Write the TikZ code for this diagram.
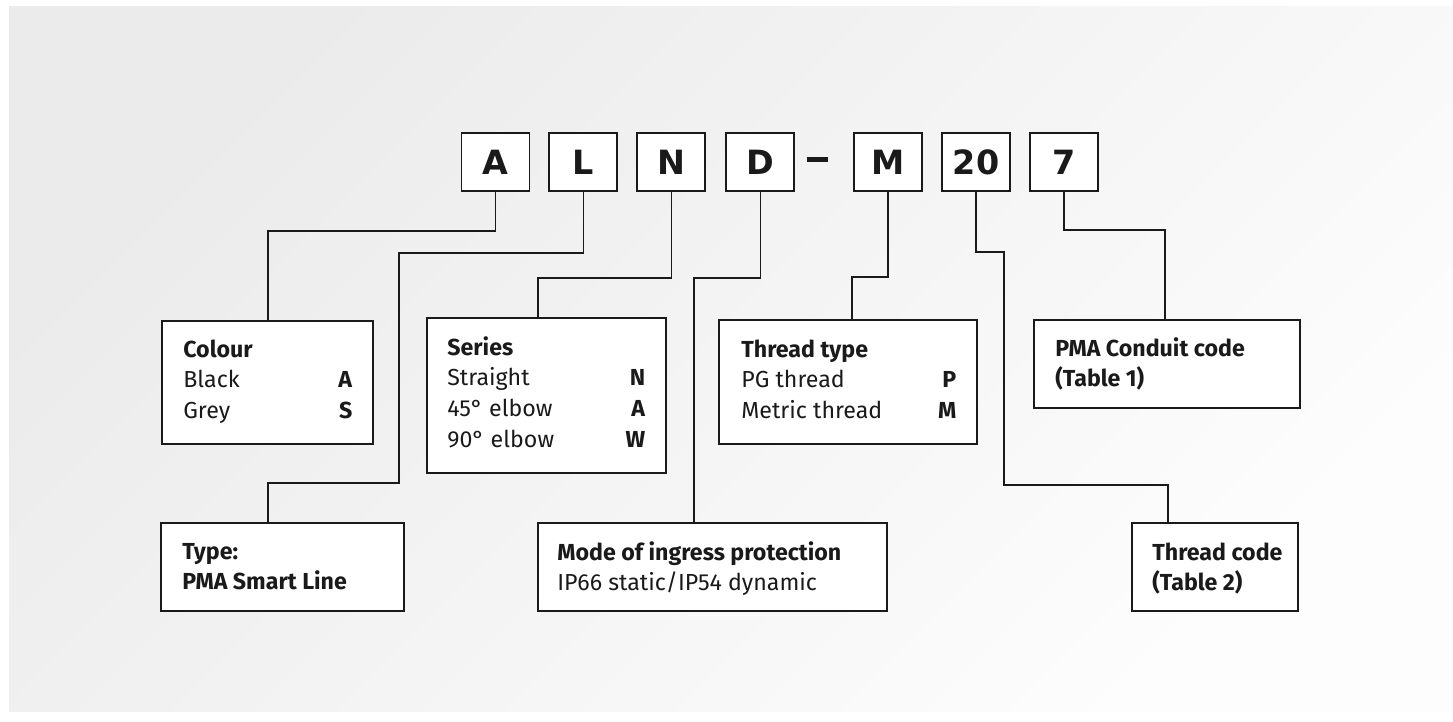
\documentclass[tikz,border=0pt]{standalone}
\usepackage{fontspec}
\setmainfont{Fira Sans}
\newfontfamily\codefont{DejaVu Sans}
\usetikzlibrary{positioning}
\definecolor{ink}{HTML}{1A1A1A}
\definecolor{bgdark}{HTML}{EBEBEB}
\definecolor{bglight}{HTML}{FDFDFD}

\begin{document}
\begin{tikzpicture}[
    x=0.02cm, y=-0.02cm,
    codebox/.style={
        rectangle, draw=ink, fill=white, line width=1.1pt,
        minimum width=1.36cm, minimum height=1.16cm, inner sep=0pt,
        font=\codefont\bfseries\fontsize{19}{20}\selectfont, text=ink,
    },
    infobox/.style={
        rectangle, draw=ink, fill=white, line width=1.1pt, inner sep=0pt,
    },
    infotxt/.style={
        anchor=base west, inner sep=0pt, text=ink,
        font=\fontsize{13.2}{17.6}\selectfont,
    },
    wire/.style={draw=ink, line width=0.85pt},
]

% ---------------------------------------------------------------- backdrop
\useasboundingbox (0,0) rectangle (1453,721);
\fill[white] (0,0) rectangle (1453,721);
\shade[top color=bgdark, bottom color=bglight, shading angle=45]
    (9,6) rectangle (1453,711);

% ---------------------------------------------------------------- order code
\node[codebox] (ca) at (495.5,162) {A};
\node[codebox, right=0.36cm of ca] (cl) {L};
\node[codebox, right=0.36cm of cl] (cn) {N};
\node[codebox, right=0.38cm of cn] (cd) {D};
\node[codebox, right=1.16cm of cd] (cm) {M};
\node[codebox, right=0.36cm of cm] (ctw) {20};
\node[codebox, right=0.36cm of ctw] (csv) {7};
\node[fill=ink, minimum width=0.42cm, minimum height=0.1cm, inner sep=0pt] (dash)
    at (817.5,159) {};

% ---------------------------------------------------------------- upper boxes
\node[infobox, minimum width=4.22cm, minimum height=2.46cm] (colour) at (267.5,382.5) {};
\node[infotxt] (colourtxt) at (183,357) {%
    \begin{tabular*}{3.38cm}[t]{@{}l@{\extracolsep{\fill}}r@{}}
    \multicolumn{2}{@{}l}{\textbf{Colour}}\\
    Black & \textbf{A}\\
    Grey & \textbf{S}
    \end{tabular*}};

\node[infobox, minimum width=4.78cm, minimum height=3.10cm] (series) at (546.5,395.5) {};
\node[infotxt] (seriestxt) at (447,355) {%
    \begin{tabular*}{3.96cm}[t]{@{}l@{\extracolsep{\fill}}r@{}}
    \multicolumn{2}{@{}l}{\textbf{Series}}\\
    Straight & \textbf{N}\\
    45° elbow & \textbf{A}\\
    90° elbow & \textbf{W}
    \end{tabular*}};

\node[infobox, minimum width=5.16cm, minimum height=2.48cm] (thread) at (848,382) {};
\node[infotxt] (threadtxt) at (741,357) {%
    \begin{tabular*}{4.30cm}[t]{@{}l@{\extracolsep{\fill}}r@{}}
    \multicolumn{2}{@{}l}{\textbf{Thread type}}\\
    PG thread & \textbf{P}\\
    Metric thread & \textbf{M}
    \end{tabular*}};

\node[infobox, minimum width=5.32cm, minimum height=1.76cm] (conduit) at (1167,364) {};
\node[infotxt] (conduittxt) at (1055,356) {%
    \begin{tabular}[t]{@{}l@{}}
    \textbf{PMA Conduit code}\\
    \textbf{(Table 1)}
    \end{tabular}};

% ---------------------------------------------------------------- lower boxes
\node[infobox, minimum width=4.86cm, minimum height=1.76cm] (type) at (282.5,567) {};
\node[infotxt] (typetxt) at (182,559) {%
    \begin{tabular}[t]{@{}l@{}}
    \textbf{Type:}\\
    \textbf{PMA Smart Line}
    \end{tabular}};

\node[infobox, minimum width=6.98cm, minimum height=1.76cm] (mode) at (712.5,567) {};
\node[infotxt] (modetxt) at (557,560) {%
    \begin{tabular}[t]{@{}l@{}}
    \textbf{Mode of ingress protection}\\
    IP66 static/IP54 dynamic
    \end{tabular}};

\node[infobox, minimum width=3.32cm, minimum height=1.76cm] (tcode) at (1215,567) {};
\node[infotxt] (tcodetxt) at (1152,560) {%
    \begin{tabular}[t]{@{}l@{}}
    \textbf{Thread code}\\
    \textbf{(Table 2)}
    \end{tabular}};

% ---------------------------------------------------------------- leaders
\coordinate (ka) at (268,231);
\coordinate (kl1) at (399,253);
\coordinate (kl2) at (268,483);
\coordinate (kn) at (538,278);
\coordinate (kd) at (694,278);
\coordinate (km) at (852,277);
\coordinate (kt1) at (1004,252);
\coordinate (kt2) at (1168,485);
\coordinate (ks) at (1165,230);

\draw[wire] (ca.south) |- (ka) -- (ka |- colour.north);
\draw[wire] (cl.south) |- (kl1) |- (kl2) -- (kl2 |- type.north);
\draw[wire] (cn.south) |- (kn) -- (kn |- series.north);
\draw[wire] (cd.south) |- (kd) -- (kd |- mode.north);
\draw[wire] (cm.south) |- (km) -- (km |- thread.north);
\draw[wire] (ctw.south) |- (kt1) |- (kt2) -- (kt2 |- tcode.north);
\draw[wire] (csv.south) |- (ks) -- (ks |- conduit.north);

\end{tikzpicture}
\end{document}
